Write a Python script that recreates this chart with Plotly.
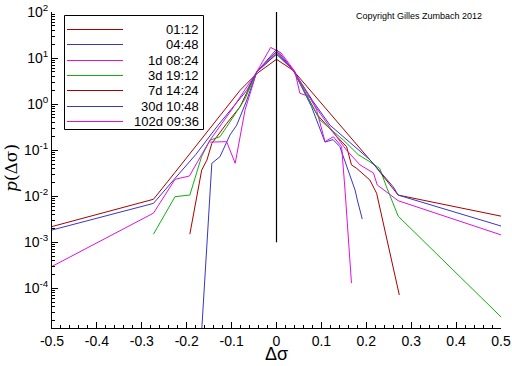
import plotly.graph_objects as go

# ---------------- data ----------------
labels = ["01:12", "04:48", "1d 08:24", "3d 19:12", "7d 14:24", "30d 10:48", "102d 09:36"]
colors = ["#a80000", "#3636c8", "#e010e0", "#10b010", "#a80000", "#3636c8", "#e010e0"]

x_0112 = [-0.193, -0.1666, -0.155, -0.144, -0.111, -0.081, -0.044, 0.0, 0.037, 0.09, 0.134, 0.156, 0.167, 0.179, 0.208, 0.223, 0.2735]
y_0112 = [1.5e-3, 0.037, 0.061, 0.14, 0.38, 0.88, 5.0, 13.7, 5.5, 0.6, 0.2, 0.12, 0.048, 0.04, 0.0225, 0.0116, 7.2e-5]

x_0448 = [-0.169, -0.1466, -0.144, -0.126, -0.1036, -0.0886, -0.066, -0.044, 0.0, 0.037, 0.078, 0.108, 0.126, 0.141, 0.156, 0.175, 0.18, 0.191]
y_0448 = [5e-6, 0.0225, 0.052, 0.072, 0.214, 0.35, 1.23, 5.0, 15.5, 5.5, 0.88, 0.15, 0.17, 0.12, 0.044, 0.0136, 8.3e-3, 3.2e-3]

x_1d = [-0.148, -0.111, -0.092, -0.07, -0.044, -0.013, 0.01, 0.041, 0.052, 0.0746, 0.0895, 0.108, 0.1265, 0.145, 0.1526, 0.158, 0.167]
y_1d = [0.15, 0.153, 0.052, 0.75, 5.0, 17.0, 13.0, 5.1, 1.72, 1.45, 0.74, 0.153, 0.196, 0.12, 0.0136, 2.6e-3, 1.3e-4]

x_3d = [-0.274, -0.226, -0.193, -0.167, -0.148, -0.126, -0.111, -0.07, -0.044, 0.0, 0.037, 0.097, 0.149, 0.182, 0.208, 0.23, 0.245, 0.271, 0.5]
y_3d = [1.5e-3, 9.8e-3, 0.0106, 0.072, 0.166, 0.196, 0.32, 1.3, 5.0, 12.2, 5.5, 0.45, 0.166, 0.08, 0.056, 0.04, 0.016, 3.7e-3, 2.4e-5]

x_7d = [-0.5, -0.274, -0.226, -0.18, -0.13, -0.081, -0.044, 0.0, 0.037, 0.0746, 0.12, 0.17, 0.22, 0.271, 0.5]
y_7d = [2.2e-3, 8.6e-3, 0.033, 0.12, 0.49, 2.0, 4.6, 9.4, 5.4, 2.0, 0.62, 0.166, 0.045, 0.0106, 3.7e-3]

x_30d = [-0.5, -0.274, -0.226, -0.18, -0.13, -0.066, -0.044, 0.0, 0.037, 0.08, 0.119, 0.179, 0.208, 0.26, 0.271, 0.5]
y_30d = [1.85e-3, 7e-3, 0.0245, 0.08, 0.35, 2.0, 5.0, 12.2, 5.5, 1.2, 0.35, 0.11, 0.062, 0.016, 0.0106, 2.26e-3]

x_102d = [-0.5, -0.274, -0.226, -0.194, -0.148, -0.1, -0.044, 0.0, 0.037, 0.08, 0.12, 0.156, 0.186, 0.216, 0.2245, 0.271, 0.5]
y_102d = [3e-4, 4.3e-3, 0.0233, 0.0275, 0.166, 0.75, 5.0, 13.7, 5.5, 1.1, 0.3, 0.1, 0.048, 0.032, 0.0175, 8e-3, 1.45e-3]

series_x = [x_0112, x_0448, x_1d, x_3d, x_7d, x_30d, x_102d]
series_y = [y_0112, y_0448, y_1d, y_3d, y_7d, y_30d, y_102d]

center_x = [0.0, 0.0]
center_y = [1e-3, 1e2]

x_ticks = [-0.5, -0.4, -0.3, -0.2, -0.1, 0, 0.1, 0.2, 0.3, 0.4, 0.5]
x_ticktext = ["-0.5", "-0.4", "-0.3", "-0.2", "-0.1", "0", "0.1", "0.2", "0.3", "0.4", "0.5"]
y_ticks = [1e-4, 1e-3, 1e-2, 1e-1, 1e0, 1e1, 1e2]
y_ticktext = ["10<sup>-4</sup>", "10<sup>-3</sup>", "10<sup>-2</sup>", "10<sup>-1</sup>",
              "10<sup>0</sup>", "10<sup>1</sup>", "10<sup>2</sup>"]

# ---------------- layout geometry ----------------
W, H = 512, 366
L, R, T, B = 52, 11, 12, 38
PW, PH = W - L - R, H - T - B
FONT = "Liberation Sans, Arial, sans-serif"


def px(xp):
    return (xp - L) / PW


def py(yp):
    return (H - B - yp) / PH


fig = go.Figure()
for xs, ys, lab, col in zip(series_x, series_y, labels, colors):
    fig.add_trace(go.Scatter(x=xs, y=ys, mode="lines", name=lab,
                             line=dict(color=col, width=1), showlegend=False))

fig.add_trace(go.Scatter(x=center_x, y=center_y, mode="lines",
                         line=dict(color="black", width=1.2), showlegend=False))

shapes = []
annotations = []
# legend box
shapes.append(dict(type="rect", xref="paper", yref="paper",
                   x0=px(64.5), x1=px(203.5), y0=py(129.5), y1=py(15.5),
                   line=dict(color="black", width=1), fillcolor="white", layer="above"))
row_y = [29.5, 44.5, 60.5, 75.5, 90.5, 106.5, 121.5]
for yy, lab, col in zip(row_y, labels, colors):
    shapes.append(dict(type="line", xref="paper", yref="paper",
                       x0=px(67), x1=px(123), y0=py(yy), y1=py(yy),
                       line=dict(color=col, width=1.2), layer="above"))
    annotations.append(dict(text=lab, xref="paper", yref="paper", x=px(200.5), y=py(yy),
                            xanchor="right", yanchor="middle", showarrow=False,
                            font=dict(family=FONT, size=13, color="black")))

annotations.append(dict(text="Copyright Gilles Zumbach 2012", xref="paper", yref="paper",
                        x=px(419), y=py(16), xanchor="center", yanchor="middle",
                        showarrow=False, font=dict(family=FONT, size=9, color="black")))
annotations.append(dict(text="Δσ", xref="paper", yref="paper", x=px(276), y=py(366),
                        xanchor="center", yanchor="bottom", showarrow=False,
                        font=dict(family=FONT, size=18, color="black")))
annotations.append(dict(text="<i>p</i>(Δσ)", xref="paper", yref="paper", x=px(11), y=py(168),
                        xanchor="center", yanchor="middle", showarrow=False, textangle=-90,
                        font=dict(family="DejaVu Serif, serif", size=17, color="black")))

fig.update_layout(
    template="none",
    width=W, height=H, autosize=False,
    margin=dict(l=L, r=R, t=T, b=B, pad=0, autoexpand=False),
    paper_bgcolor="white", plot_bgcolor="white",
    shapes=shapes, annotations=annotations,
    font=dict(family=FONT, size=14, color="black"),
    showlegend=False,
)
fig.update_xaxes(range=[-0.5, 0.5], tickvals=x_ticks, ticktext=x_ticktext, automargin=False,
                 ticks="inside", ticklen=6, tickcolor="black", showgrid=False, zeroline=False,
                 showline=True, linecolor="black", linewidth=1, mirror=False,
                 minor=dict(ticks="inside", ticklen=3, dtick=0.02, tickcolor="black", showgrid=False),
                 tickfont=dict(family=FONT, size=14))
fig.update_yaxes(type="log", range=[-4.86, 2], tickvals=y_ticks, ticktext=y_ticktext, automargin=False,
                 ticks="inside", ticklen=6, tickcolor="black", showgrid=False, zeroline=False,
                 showline=True, linecolor="black", linewidth=1, mirror=False,
                 minor=dict(ticks="inside", ticklen=3, dtick="D1", tickcolor="black", showgrid=False),
                 tickfont=dict(family=FONT, size=14))

fig.write_html("out.html", config={"displayModeBar": False, "staticPlot": True},
               post_script="document.body.style.margin='0';document.body.style.overflow='hidden';")
